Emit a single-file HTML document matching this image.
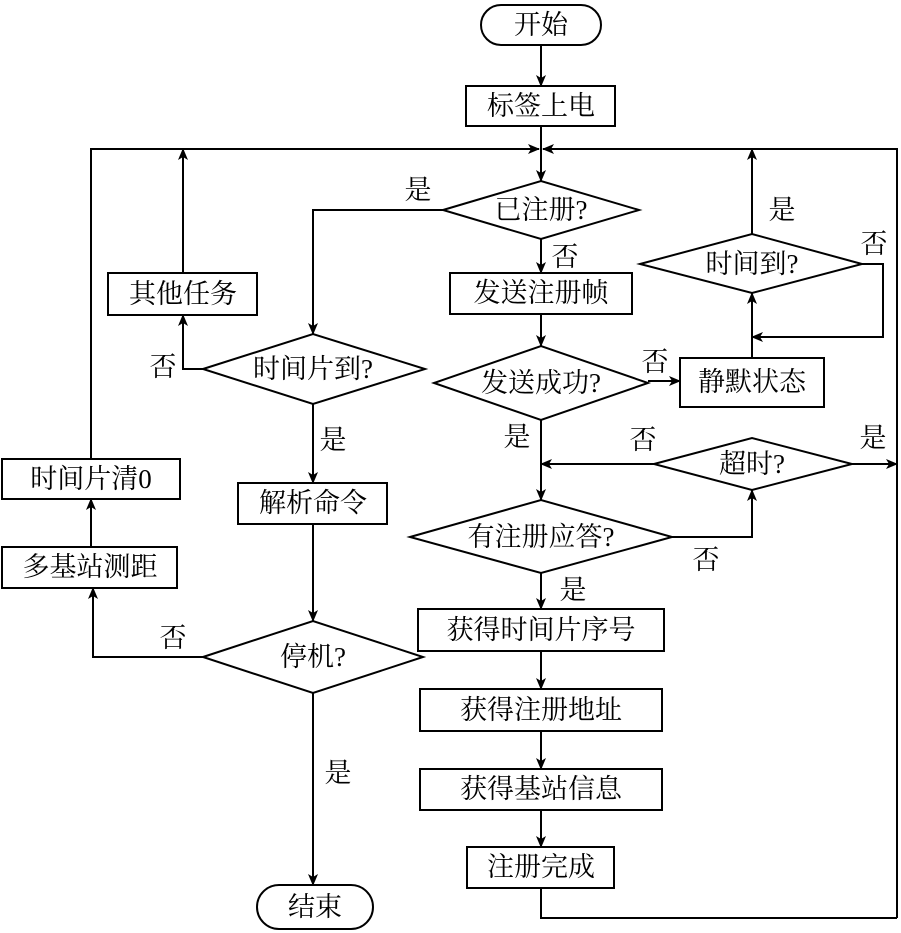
<!DOCTYPE html>
<html><head><meta charset="utf-8"><style>
html,body{margin:0;padding:0;background:#fff;}
svg{display:block}
text{font-family:"Liberation Serif","Noto Serif CJK SC","Noto Sans CJK SC",serif;font-size:27px;fill:#000;text-anchor:middle;dominant-baseline:central}
</style></head><body>
<svg width="901" height="933" viewBox="0 0 901 933" xmlns="http://www.w3.org/2000/svg">
<defs><marker id="a" markerWidth="12" markerHeight="10" refX="11" refY="5" orient="auto" markerUnits="userSpaceOnUse"><path d="M0,0 L12,5 L0,10 L3,5 Z" fill="#000"/></marker></defs>
<g fill="none" stroke="#000" stroke-width="2">
<rect x="481" y="5" width="120" height="40" rx="20"/>
<rect x="466" y="86" width="149" height="40"/>
<polygon points="443,210 541,181 639,210 541,239"/>
<polygon points="203,369 313,334 425,369 313,404"/>
<rect x="108" y="273" width="149" height="42"/>
<rect x="450" y="273" width="182" height="41"/>
<polygon points="434,383 541,346 648,383 541,420"/>
<rect x="680" y="358" width="144" height="49"/>
<polygon points="640,264 752,234 862,264 752,293"/>
<polygon points="654,464 752,438 852,464 752,490"/>
<polygon points="410,537 541,500 672,537 541,573"/>
<rect x="238" y="483" width="149" height="41"/>
<polygon points="203,657 313,621 423,657 313,693"/>
<rect x="2" y="459" width="178" height="40"/>
<rect x="2" y="547" width="175" height="41"/>
<rect x="257" y="885" width="116" height="44" rx="22"/>
<rect x="418" y="609" width="246" height="42"/>
<rect x="420" y="689" width="242" height="42"/>
<rect x="420" y="769" width="242" height="41"/>
<rect x="467" y="847" width="147" height="41"/>
</g>
<g fill="none" stroke="#000" stroke-width="2" marker-end="url(#a)">
<line x1="541" y1="45" x2="541" y2="86"/>
<line x1="541" y1="126" x2="541" y2="181"/>
<polyline points="91,459 91,149 539,149"/>
<polyline points="897,918 897,149 543,149"/>
<polyline points="443,210 313,210 313,334"/>
<line x1="541" y1="239" x2="541" y2="273"/>
<line x1="541" y1="314" x2="541" y2="346"/>
<polyline points="203,369 183,369 183,315"/>
<line x1="183" y1="273" x2="183" y2="149"/>
<line x1="648" y1="381" x2="680" y2="381"/>
<line x1="752" y1="358" x2="752" y2="293"/>
<polyline points="862,264 883,264 883,337 752,337"/>
<line x1="752" y1="234" x2="752" y2="149"/>
<line x1="541" y1="420" x2="541" y2="500"/>
<line x1="654" y1="464" x2="541" y2="464"/>
<line x1="852" y1="464" x2="897" y2="464"/>
<polyline points="672,537 752,537 752,490"/>
<line x1="541" y1="573" x2="541" y2="609"/>
<line x1="541" y1="651" x2="541" y2="689"/>
<line x1="541" y1="731" x2="541" y2="769"/>
<line x1="541" y1="810" x2="541" y2="847"/>
<line x1="313" y1="404" x2="313" y2="483"/>
<line x1="313" y1="524" x2="313" y2="621"/>
<line x1="313" y1="693" x2="313" y2="885"/>
<polyline points="203,657 93,657 93,588"/>
<line x1="91" y1="547" x2="91" y2="499"/>
</g>
<polyline points="541,888 541,918 897,918" fill="none" stroke="#000" stroke-width="2"/>
<text x="541" y="25">开始</text>
<text x="541" y="106">标签上电</text>
<text x="541" y="210">已注册?</text>
<text x="313" y="369">时间片到?</text>
<text x="183" y="294">其他任务</text>
<text x="541" y="293">发送注册帧</text>
<text x="541" y="383">发送成功?</text>
<text x="752" y="382">静默状态</text>
<text x="752" y="264">时间到?</text>
<text x="752" y="464">超时?</text>
<text x="541" y="537">有注册应答?</text>
<text x="313" y="503">解析命令</text>
<text x="313" y="657">停机?</text>
<text x="91" y="479">时间片清0</text>
<text x="90" y="567">多基站测距</text>
<text x="315" y="907">结束</text>
<text x="541" y="630">获得时间片序号</text>
<text x="541" y="710">获得注册地址</text>
<text x="541" y="789">获得基站信息</text>
<text x="541" y="867">注册完成</text>
<text x="418" y="190">是</text>
<text x="565" y="257">否</text>
<text x="163" y="367">否</text>
<text x="333" y="440">是</text>
<text x="655" y="362">否</text>
<text x="517" y="437">是</text>
<text x="782" y="210">是</text>
<text x="874" y="244">否</text>
<text x="643" y="440">否</text>
<text x="873" y="438">是</text>
<text x="706" y="560">否</text>
<text x="573" y="590">是</text>
<text x="173" y="638">否</text>
<text x="338" y="773">是</text>
</svg>
</body></html>
